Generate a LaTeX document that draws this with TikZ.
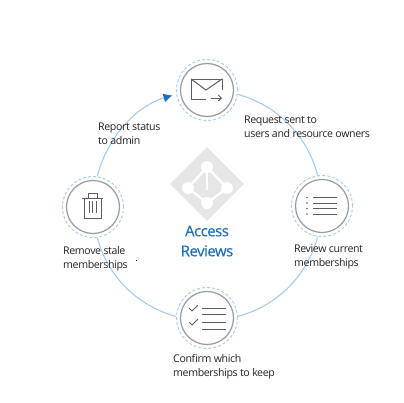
\documentclass[tikz,border=0pt]{standalone}
\usepackage{fontspec}
\setmainfont[LetterSpace=-3.5]{Open Sans}
\usepackage{xcolor}
\usetikzlibrary{shapes.geometric,arrows.meta,positioning,calc}
\definecolor{ringblue}{HTML}{A3CDEA}
\definecolor{tipblue}{HTML}{1B6EC2}
\definecolor{ringgrey}{HTML}{9A9A9A}
\definecolor{icongrey}{HTML}{5E5E5E}
\definecolor{logogrey}{HTML}{E6E6E6}
\definecolor{txtgrey}{HTML}{222222}
\tikzset{
  ringout/.style={circle, draw=ringblue, densely dashed, line width=0.9pt, minimum size=61pt, inner sep=0pt},
  ringin/.style={circle, draw=ringgrey, line width=1.2pt, minimum size=53pt, inner sep=0pt},
  link/.style={draw=ringblue, line width=1.1pt, bend left=30, looseness=0.92},
  icon/.style={draw=icongrey, line width=1pt},
  caption/.style={anchor=west, align=left, inner sep=0pt, text=txtgrey, font=\fontsize{10.6}{14}\selectfont},
  dotwhite/.style={circle, fill=white, minimum size=12pt, inner sep=0pt},
}

\begin{document}
\begin{tikzpicture}[x=1pt,y=-1pt]
\useasboundingbox (0,0) rectangle (404,402);

% cycle
\node[ringout] (req) at (207,90) {};
\node[ringout] (rev) at (322,206) {};
\node[ringout] (con) at (207,318) {};
\node[ringout] (rem) at (93,207) {};
\node[ringin] (reqin) at (req) {};
\node[ringin] (revin) at (rev) {};
\node[ringin] (conin) at (con) {};
\node[ringin] (remin) at (rem) {};

\draw[link] (req.-8) to (rev.98);
\draw[link] (rev.262) to (con.3);
\draw[link] (con.177) to (rem.-82);
\draw[link, -{Latex[length=9pt,width=9pt,color=tipblue]}, shorten >=4pt] (rem.82) to (req.188);

% logo
\node[diamond, fill=logogrey, minimum size=74pt, inner sep=0pt] (logo) at (207,184) {};
\coordinate (ka) at (207,167);
\coordinate (kb) at (227,188);
\coordinate (kc) at (207,203);
\coordinate (kd) at (188,188);
\draw[white, line width=2.2pt] (ka) -- (kb) -- (kc) -- (kd) -- cycle;
\draw[white, line width=1.6pt] (ka) -- (207,190);
\node[dotwhite] (da) at (ka) {};
\node[dotwhite] (db) at (kb) {};
\node[dotwhite] (dc) at (kc) {};
\node[dotwhite] (dd) at (kd) {};

\node[text=tipblue, align=center, inner sep=0pt, font=\addfontfeature{FakeBold=0.4}\fontsize{15}{20}\selectfont] (title) at (207,241) {Access\\Reviews};

% envelope
\draw[icon] (222,90) -- (222,79) -- (191,79) -- (191,99) -- (206,99);
\draw[icon] (191,79) -- (206,90) -- (222,79);
\draw[icon, -{Straight Barb[length=3pt,width=6pt]}] (211,98) -- (222,98);

% list
\foreach \yy in {197.5,203,208.5,214}{
  \fill[icongrey] (307,\yy) circle (0.9);
  \draw[icon] (313,\yy) -- (337,\yy);
}

% checklist
\foreach \yy in {308,314,322,329}{
  \draw[icon] (202,\yy) -- (226,\yy);
}
\draw[icon] (189,308) -- (192,311) -- (198,305);
\draw[icon] (189,322) -- (192,325) -- (198,319);

% trash can
\draw[icon] (82,198) -- (103,198);
\draw[icon] (88,198) -- (88,193) -- (97,193) -- (97,198);
\draw[icon] (84,198) -- (84,218) -- (101,218) -- (101,198);
\foreach \xx in {89,92.5,96}{
  \draw[icon] (\xx,201) -- (\xx,213);
}

% labels
\node[caption] (lreq) at (244,127) {Request sent to\\users and resource owners};
\node[caption] (lrev) at (294,257) {Review current\\memberships};
\node[caption] (lcon) at (173,367) {Confirm which\\memberships to keep};
\node[caption] (lrem) at (63,259) {Remove stale\\memberships};
\node[caption] (lrep) at (98,134) {Report status\\to admin};

% speck
\fill[black] (135.5,260) rectangle (137,261);
\end{tikzpicture}
\end{document}
